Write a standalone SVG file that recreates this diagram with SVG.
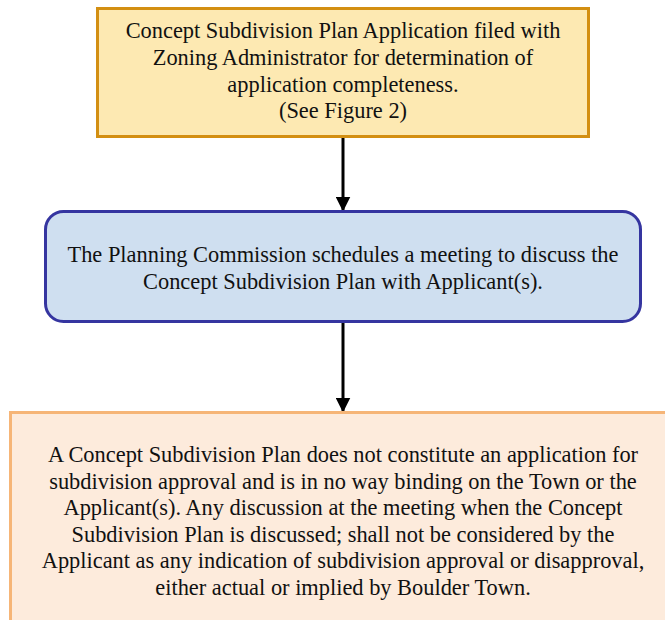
<svg xmlns="http://www.w3.org/2000/svg" width="665" height="620" viewBox="0 0 665 620">
<style>
text{font-family:"Liberation Serif","DejaVu Serif",serif;font-size:22.4px;fill:#111;text-anchor:middle}
.conn{stroke:#000;stroke-width:3;fill:none}
</style>
<defs>
<marker id="ah" markerWidth="5" markerHeight="5" refX="4.5" refY="2.5" orient="auto" markerUnits="strokeWidth">
<path d="M0,0 L5,2.5 L0,5 z" fill="#000"/>
</marker>
</defs>
<rect width="665" height="620" fill="#fff"/>
<g id="connectors">
<line class="conn" x1="343" y1="136" x2="343" y2="210" marker-end="url(#ah)"/>
<line class="conn" x1="343" y1="321" x2="343" y2="411" marker-end="url(#ah)"/>
</g>
<g id="node1">
<rect x="97.5" y="8.5" width="491" height="128" fill="#fde9b2" stroke="#d38f12" stroke-width="3"/>
<text x="343" y="38">Concept Subdivision Plan Application filed with</text>
<text x="343" y="65">Zoning Administrator for determination of</text>
<text x="343" y="92">application completeness.</text>
<text x="343" y="118">(See Figure 2)</text>
</g>
<g id="node2">
<rect x="45.5" y="211.5" width="595" height="110" rx="18" fill="#cfdff0" stroke="#3535a0" stroke-width="3"/>
<text x="343" y="262">The Planning Commission schedules a meeting to discuss the</text>
<text x="343" y="289">Concept Subdivision Plan with Applicant(s).</text>
</g>
<g id="node3">
<rect x="10.5" y="412.5" width="670" height="220" fill="#fdebdc" stroke="#f6b577" stroke-width="3"/>
<text x="343" y="462">A Concept Subdivision Plan does not constitute an application for</text>
<text x="343" y="488.5">subdivision approval and is in no way binding on the Town or the</text>
<text x="343" y="515">Applicant(s). Any discussion at the meeting when the Concept</text>
<text x="343" y="541.5">Subdivision Plan is discussed; shall not be considered by the</text>
<text x="343" y="568">Applicant as any indication of subdivision approval or disapproval,</text>
<text x="343" y="594.5">either actual or implied by Boulder Town.</text>
</g>
</svg>
